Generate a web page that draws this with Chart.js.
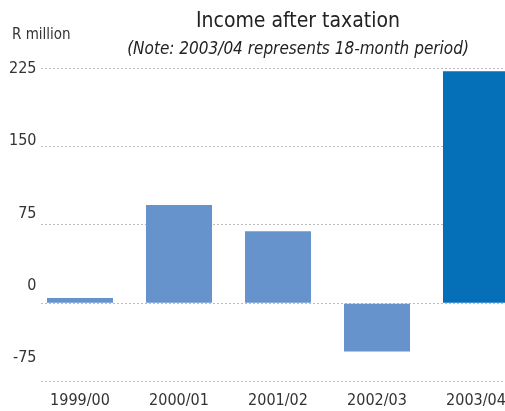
<!DOCTYPE html>
<html>
<head>
<meta charset="utf-8">
<script src="https://cdn.jsdelivr.net/npm/chart.js@4/dist/chart.umd.min.js"></script>
<style>
  html, body { margin: 0; padding: 0; background: #fff; overflow: hidden; }
  #wrap { position: relative; width: 596px; height: 411px; }
</style>
</head>
<body>
<div id="wrap"><canvas id="chart"></canvas></div>
<script>
const years = ["1999/00", "2000/01", "2001/02", "2002/03", "2003/04"];
const income = [5, 94, 69, -46, 222];
const yTicks = [-75, 0, 75, 150, 225];
const barColours = ["#6693cb", "#6693cb", "#6693cb", "#6693cb", "#0570b8"];

const FONT = "'Liberation Sans Narrow', 'DejaVu Sans Condensed', 'Roboto', sans-serif";
Chart.defaults.font.family = FONT;
Chart.defaults.color = "#333";

// titles and the "R million" unit, placed like the original (off the plot centre)
const headings = {
    id: "headings",
    afterDraw(chart) {
        const ctx = chart.ctx;
        ctx.save();
        ctx.fillStyle = "#222";
        ctx.textAlign = "center";
        ctx.textBaseline = "middle";
        ctx.font = "21px " + FONT;
        ctx.fillText("Income after taxation", 298, 22);
        ctx.font = "italic 17px " + FONT;
        ctx.fillText("(Note: 2003/04 represents 18-month period)", 298, 50);
        ctx.fillStyle = "#333";
        ctx.textAlign = "left";
        ctx.textBaseline = "alphabetic";
        ctx.font = "15px " + FONT;
        ctx.fillText("R million", 12, 39);
        ctx.restore();
    }
};

// bars sit on a numeric x axis (one step per year) so the grid can start
// right of the first slot, as in the original
const points = income.map((v, i) => ({ x: i, y: v }));

new Chart(document.getElementById("chart"), {
    type: "bar",
    data: {
        datasets: [{
            data: points,
            yAxisID: "y",
            backgroundColor: barColours,
            borderWidth: 0,
            categoryPercentage: 1,
            barPercentage: 0.667
        }]
    },
    options: {
        responsive: true,
        maintainAspectRatio: false,
        animation: false,
        layout: { padding: { left: 0, right: 70, top: 68, bottom: -8 } },
        plugins: {
            legend: { display: false },
            tooltip: { enabled: false },
            title: { display: false }
        },
        scales: {
            x: {
                type: "linear",
                min: -0.394,
                max: 4.505,
                offset: false,
                grid: { display: false, drawTicks: false, offset: false },
                border: { display: false },
                afterBuildTicks: axis => { axis.ticks = years.map((_, i) => ({ value: i })); },
                ticks: {
                    font: { size: 16 }, color: "#333", padding: 9,
                    maxRotation: 0, autoSkip: false,
                    callback: v => years[v]
                }
            },
            // label-only axis: the original's tick labels sit slightly off the grid lines
            yl: {
                position: "left",
                min: -100,
                max: 226,
                grid: { display: false, drawTicks: false },
                border: { display: false },
                ticks: { font: { size: 16 }, color: "#333", padding: 4.5 },
                afterBuildTicks: axis => { axis.ticks = yTicks.map(v => ({ value: v })); },
                afterFit: axis => { axis.width = 41; }
            },
            y: {
                position: "left",
                min: -75,
                max: 225,
                ticks: { display: false, stepSize: 75 },
                grid: { color: "#bbb", lineWidth: 1, drawTicks: false },
                border: { display: false, dash: [2, 2] },
                afterFit: axis => { axis.width = 0; }
            }
        }
    },
    plugins: [headings]
});
</script>
</body>
</html>
